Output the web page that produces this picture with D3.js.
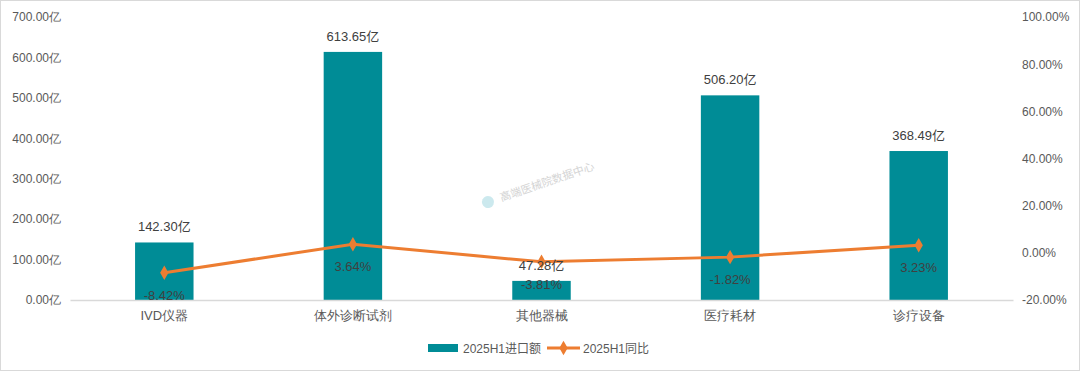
<html>
<head>
    <meta charset="utf-8">
    <title>2025H1 进口额</title>
    <script src="https://d3js.org/d3.v7.min.js"></script>
</head>
<style>
    body { margin: 0; background: #fff; }
    svg { font-family: "Liberation Sans", "Noto Sans CJK SC", sans-serif; }
    .tick text { fill: #595959; font-size: 12px; }
    .lbl { fill: #404040; font-size: 13px; text-anchor: middle; }
</style>
<body>
<script>
    // data
    let categories = ["IVD仪器", "体外诊断试剂", "其他器械", "医疗耗材", "诊疗设备"];
    let importValues = [142.30, 613.65, 47.28, 506.20, 368.49];
    let yoyValues = [-8.42, 3.64, -3.81, -1.82, 3.23];
    let leftTicks = [0, 100, 200, 300, 400, 500, 600, 700];
    let rightTicks = [-20, 0, 20, 40, 60, 80, 100];
    let seriesNames = ["2025H1进口额", "2025H1同比"];

    let svgwidth = 1080, svgheight = 371;
    let margin = {top: 17, right: 67, bottom: 71, left: 70};
    let width = svgwidth - margin.left - margin.right;
    let height = svgheight - margin.top - margin.bottom;

    let barColor = "#008C96";
    let lineColor = "#ED7D31";

    // plain hyphen for negatives, like the original
    let fmt2 = function (d) { return d3.format(".2f")(d).replace("\u2212", "-"); };

    let svg = d3.select("body").append("svg")
        .attr("width", svgwidth)
        .attr("height", svgheight);

    // chart border
    svg.append("rect")
        .attr("x", 0.5).attr("y", 0.5)
        .attr("width", svgwidth - 1).attr("height", svgheight - 1)
        .attr("fill", "none").attr("stroke", "#d9d9d9");

    let g = svg.append("g")
        .attr("transform", "translate(" + margin.left + "," + margin.top + ")");

    let x = d3.scaleBand().domain(categories).range([0, width]);
    let y0 = d3.scaleLinear().domain([0, 700]).range([height, 0]);
    let y1 = d3.scaleLinear().domain([-20, 100]).range([height, 0]);

    // watermark
    let wm = svg.append("g")
        .attr("transform", "translate(488,202) rotate(-19)");
    wm.append("circle").attr("cx", 0).attr("cy", 0).attr("r", 6)
        .attr("fill", "#bfe3ea").attr("opacity", 0.8);
    wm.append("text").attr("x", 13).attr("y", 4)
        .attr("font-size", 11).attr("fill", "#d4d4d4")
        .attr("font-family", "Noto Sans CJK SC")
        .text("高端医械院数据中心");

    // left axis
    let axisL = g.append("g")
        .call(d3.axisLeft(y0).tickValues(leftTicks).tickSize(0).tickPadding(9)
            .tickFormat(function (d) { return fmt2(d) + "亿"; }));
    axisL.select(".domain").remove();

    // right axis
    let axisR = g.append("g")
        .attr("transform", "translate(" + width + ",0)")
        .call(d3.axisRight(y1).tickValues(rightTicks).tickSize(0).tickPadding(9)
            .tickFormat(function (d) { return fmt2(d) + "%"; }));
    axisR.select(".domain").remove();

    // bars
    let bw = x.bandwidth() * 0.31;
    g.selectAll(".bar")
        .data(categories)
        .enter().append("rect")
        .attr("class", "bar")
        .attr("x", function (d) { return x(d) + x.bandwidth() / 2 - bw / 2; })
        .attr("width", bw)
        .attr("y", function (d, i) { return y0(importValues[i]); })
        .attr("height", function (d, i) { return height - y0(importValues[i]); })
        .attr("fill", barColor);

    // category axis
    let axisB = g.append("g")
        .attr("transform", "translate(0," + height + ")")
        .call(d3.axisBottom(x).tickSize(0).tickPadding(11));
    axisB.select(".domain").attr("stroke", "#d9d9d9").attr("stroke-width", 1.5);
    axisB.selectAll(".tick text").style("font-size", "13px");

    // line
    let line = d3.line()
        .x(function (d, i) { return x(categories[i]) + x.bandwidth() / 2; })
        .y(function (d) { return y1(d); });

    g.append("path")
        .datum(yoyValues)
        .attr("fill", "none")
        .attr("stroke", lineColor)
        .attr("stroke-width", 3)
        .attr("d", line);

    let diamond = d3.symbol().type(d3.symbolDiamond).size(60);
    g.selectAll(".pt")
        .data(yoyValues)
        .enter().append("path")
        .attr("class", "pt")
        .attr("d", diamond)
        .attr("fill", lineColor)
        .attr("transform", function (d, i) {
            return "translate(" + (x(categories[i]) + x.bandwidth() / 2) + "," + y1(d) + ")";
        });

    // bar labels
    g.selectAll(".barlbl")
        .data(importValues)
        .enter().append("text")
        .attr("class", "lbl")
        .attr("x", function (d, i) { return x(categories[i]) + x.bandwidth() / 2; })
        .attr("y", function (d) { return y0(d) - 11; })
        .text(function (d) { return fmt2(d) + "亿"; });

    // line labels
    g.selectAll(".linelbl")
        .data(yoyValues)
        .enter().append("text")
        .attr("class", "lbl")
        .attr("x", function (d, i) { return x(categories[i]) + x.bandwidth() / 2; })
        .attr("y", function (d) { return y1(d) + 27; })
        .text(function (d) { return fmt2(d) + "%"; });

    // legend
    let legend = svg.append("g").attr("transform", "translate(0,348)");
    legend.append("rect")
        .attr("x", 428).attr("y", -4).attr("width", 30).attr("height", 8)
        .attr("fill", barColor);
    legend.append("text")
        .attr("x", 463).attr("y", 5)
        .attr("font-size", 12).attr("fill", "#595959")
        .text(seriesNames[0]);
    legend.append("line")
        .attr("x1", 547).attr("x2", 580).attr("y1", 0).attr("y2", 0)
        .attr("stroke", lineColor).attr("stroke-width", 3);
    legend.append("path")
        .attr("d", diamond)
        .attr("fill", lineColor)
        .attr("transform", "translate(563.5,0)");
    legend.append("text")
        .attr("x", 583).attr("y", 5)
        .attr("font-size", 12).attr("fill", "#595959")
        .text(seriesNames[1]);
</script>
</body>
</html>
